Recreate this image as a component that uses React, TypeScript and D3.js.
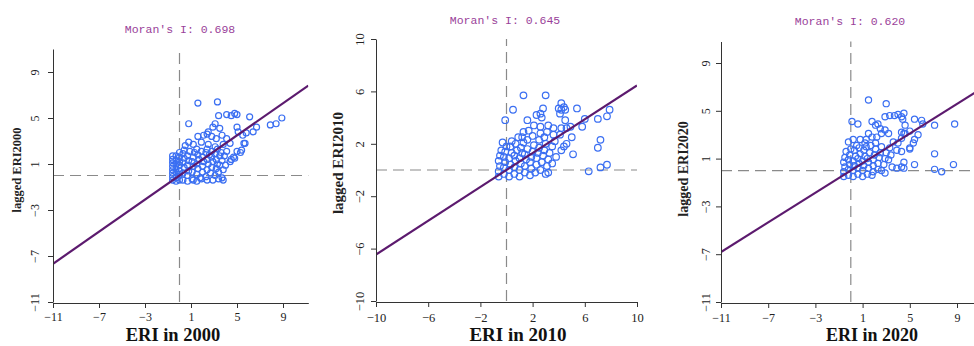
import React, { useEffect, useRef } from 'react';
import * as d3 from 'd3';

// Moran scatter plots, ERI vs lagged ERI
const years = ['2000', '2010', '2020'];
const moranI = [0.698, 0.645, 0.620];

const ticks2000 = [-11, -7, -3, 1, 5, 9];
const ticks2010 = [-10, -6, -2, 2, 6, 10];
const ticks2020 = [-11, -7, -3, 1, 5, 9];

const pts2000: [number, number][] = [
  [1.6, 6.3], [3.3, 6.4], [0.8, 4.5], [3.1, 4.5], [4.1, 5.3], [3.4, 5.2], [2.9, 4.2], [3.5, 4.1], [2.5, 3.8],
  [1.6, 3.4], [2.1, 3.5], [2.4, 3.6], [2.8, 3.4], [3.2, 3.2], [3.7, 3.5], [4.1, 3.2], [0.8, 2.9], [1.2, 2.7],
  [0.5, 2.6], [1.9, 2.9], [2.5, 2.7], [3.1, 2.5], [3.8, 2.7], [4.4, 2.8],
  [4.8, 5.4], [5.0, 5.3], [4.5, 5.2], [6.1, 5.1], [7.9, 4.4], [8.4, 4.5], [8.9, 5.0], [5.0, 4.2], [6.7, 4.2],
  [6.4, 3.8], [5.1, 3.8], [5.5, 3.5], [5.8, 3.7], [5.7, 2.8], [5.4, 2.2], [5.0, 2.1], [4.7, 1.6], [4.5, 1.4],
  [2.9, -0.4], [3.4, -0.3], [3.7, -0.2], [3.8, -0.4], [2.4, -0.4], [1.8, -0.2], [1.2, -0.4], [3.8, 0.5],
  [3.4, 0.3], [4.4, 1.2], [4.8, 1.5], [5.3, 2.0], [5.6, 2.8],
  [-0.6, -0.4], [-0.6, -0.1], [-0.6, 0.2], [-0.6, 0.5], [-0.6, 0.8], [-0.6, 1.1], [-0.6, 1.4], [-0.6, 1.7],
  [-0.3, -0.5], [-0.3, -0.2], [-0.3, 0.3], [-0.3, 0.6], [-0.3, 1.0], [-0.3, 1.3], [-0.3, 1.7],
  [0.0, -0.4], [0.0, 0.1], [0.0, 0.4], [0.0, 0.9], [0.0, 1.2], [0.0, 1.6], [0.0, 2.0],
  [0.3, -0.4], [0.3, 0.2], [0.4, 0.7], [0.3, 1.1], [0.4, 1.5], [0.3, 1.9], [0.4, 2.2],
  [0.7, -0.5], [0.7, 0.0], [0.8, 0.4], [0.7, 0.9], [0.8, 1.3], [0.7, 1.7], [0.9, 2.1],
  [1.1, -0.3], [1.1, 0.3], [1.2, 0.8], [1.1, 1.2], [1.2, 1.6], [1.3, 2.0], [1.5, 2.3],
  [1.5, -0.5], [1.5, 0.1], [1.6, 0.6], [1.5, 1.0], [1.7, 1.4], [1.6, 1.8], [1.9, 2.1],
  [1.9, -0.3], [2.0, 0.3], [2.0, 0.8], [2.1, 1.2], [2.0, 1.6], [2.3, 2.0], [2.4, 2.3],
  [2.3, -0.1], [2.4, 0.5], [2.5, 1.0], [2.4, 1.4], [2.6, 1.8], [2.8, 2.1],
  [2.7, 0.2], [2.8, 0.7], [2.9, 1.2], [2.8, 1.6], [3.1, 1.9], [3.3, 2.3],
  [3.1, 0.0], [3.2, 0.6], [3.3, 1.0], [3.2, 1.4], [3.5, 1.7], [3.6, 2.0],
  [3.5, 0.9], [3.7, 1.3], [3.9, 1.7], [4.1, 2.1], [4.0, 0.9],
];

const pts2010: [number, number][] = [
  [1.3, 5.7], [3.0, 5.7], [0.5, 4.6], [-0.1, 3.8], [1.6, 3.8], [2.8, 4.7], [2.6, 4.3], [2.3, 4.2], [2.7, 4.0],
  [4.0, 4.7], [4.2, 4.6], [4.4, 4.8], [4.1, 4.3], [4.2, 5.1], [4.5, 4.6], [5.4, 4.7], [7.9, 4.6], [7.7, 4.1],
  [7.0, 3.9], [6.0, 3.9], [5.8, 3.3], [4.9, 3.3], [4.6, 3.2], [4.5, 3.8],
  [2.1, 3.4], [2.6, 3.3], [3.2, 3.4], [3.6, 3.2], [4.2, 3.2], [1.3, 2.9], [1.7, 3.0], [2.6, 2.8], [3.1, 2.9],
  [3.6, 2.7], [4.1, 2.7],
  [5.0, 2.5], [4.6, 2.0], [4.4, 1.8], [4.2, 1.5], [7.2, 2.3], [7.0, 1.7], [5.1, 1.2], [7.7, 0.4], [7.2, 0.2],
  [6.3, -0.1], [3.2, -0.2],
  [-0.6, -0.5], [-0.6, -0.1], [-0.5, 0.3], [-0.6, 0.7], [-0.5, 1.1], [-0.4, 1.5], [-0.3, 2.1],
  [-0.2, -0.3], [-0.2, 0.2], [-0.1, 0.6], [-0.2, 1.0], [-0.1, 1.4], [0.0, 1.8],
  [0.2, -0.5], [0.2, 0.0], [0.3, 0.4], [0.2, 0.9], [0.4, 1.3], [0.3, 1.8], [0.4, 2.2],
  [0.6, -0.3], [0.6, 0.2], [0.7, 0.7], [0.6, 1.1], [0.8, 1.5], [0.7, 2.0], [0.9, 2.5],
  [1.0, -0.5], [1.0, 0.0], [1.1, 0.5], [1.0, 0.9], [1.2, 1.3], [1.1, 1.7], [1.3, 2.1],
  [1.4, -0.2], [1.4, 0.3], [1.5, 0.8], [1.4, 1.2], [1.6, 1.6], [1.6, 2.3],
  [1.8, -0.4], [1.9, 0.1], [1.8, 0.6], [1.9, 1.0], [2.0, 1.4], [2.1, 1.9],
  [2.2, -0.2], [2.3, 0.4], [2.3, 0.9], [2.4, 1.3], [2.5, 1.7], [2.5, 2.3],
  [2.6, 0.0], [2.7, 0.6], [2.8, 1.1], [2.9, 1.5], [3.0, 2.0],
  [3.0, -0.3], [3.1, 0.3], [3.2, 0.8], [3.3, 1.3], [3.5, 1.8], [3.7, 2.2],
  [3.5, 0.5], [3.8, 1.0], [2.9, 2.5], [2.0, 2.6], [1.2, 2.5],
];

const pts2020: [number, number][] = [
  [1.5, 5.9], [3.0, 5.6], [0.1, 4.1], [0.6, 3.9], [1.8, 4.1], [2.3, 3.9], [2.9, 4.5], [3.3, 4.6], [3.7, 4.6],
  [4.0, 4.7], [4.5, 4.8], [4.3, 4.5], [4.4, 4.3], [5.4, 4.3], [6.0, 4.2], [6.1, 3.9], [7.1, 3.8], [8.8, 3.9],
  [4.6, 3.8], [4.6, 3.1], [4.3, 3.2], [5.0, 3.3], [5.7, 3.0], [5.4, 2.6], [5.3, 2.3],
  [2.1, 3.8], [2.5, 3.5], [2.9, 3.4], [2.6, 3.1], [3.2, 3.1], [1.5, 3.1], [1.8, 2.8], [2.2, 2.8], [1.3, 2.6],
  [-0.2, 2.4], [0.2, 2.6], [0.8, 2.6], [1.2, 2.3], [3.6, 2.4], [4.0, 2.3], [3.9, 1.7], [4.5, 3.1], [4.3, 2.7],
  [5.0, 1.9], [5.0, 1.8], [4.3, 1.6], [7.1, 1.4], [5.4, 0.5], [4.5, 0.7], [4.5, 0.2], [8.7, 0.5], [7.1, 0.1],
  [7.7, -0.1], [3.5, 0.3], [3.9, 0.2], [4.3, 0.3], [2.6, 0.0], [1.9, -0.1], [2.9, -0.2],
  [-0.6, -0.5], [-0.6, -0.1], [-0.5, 0.3], [-0.6, 0.7], [-0.5, 1.1], [-0.4, 1.6],
  [-0.2, -0.4], [-0.2, 0.1], [-0.1, 0.5], [-0.2, 0.9], [-0.1, 1.3], [0.0, 1.8],
  [0.2, -0.5], [0.2, 0.0], [0.3, 0.4], [0.2, 0.8], [0.4, 1.2], [0.3, 1.7], [0.5, 2.1],
  [0.6, -0.3], [0.6, 0.2], [0.7, 0.6], [0.6, 1.0], [0.8, 1.4], [0.7, 1.9],
  [1.0, -0.5], [1.0, 0.0], [1.1, 0.4], [1.0, 0.8], [1.2, 1.2], [1.1, 1.7], [1.3, 2.0],
  [1.4, -0.3], [1.5, 0.2], [1.5, 0.7], [1.4, 1.0], [1.6, 1.5], [1.7, 2.1],
  [1.8, -0.4], [1.9, 0.4], [1.9, 0.9], [2.0, 1.3], [2.1, 1.8],
  [2.3, 0.1], [2.3, 0.6], [2.4, 1.1], [2.5, 1.5], [2.6, 2.0],
  [2.8, 0.5], [2.9, 1.0], [3.0, 1.5], [3.2, 0.9], [3.3, 1.9], [3.4, 1.3], [2.1, 2.3],
];

const App = () => {
  const ref = useRef<SVGSVGElement>(null);

  useEffect(() => {
    const svg = d3.select(ref.current);
    svg.selectAll('*').remove();

    // layout for each panel (pixels)
    const panels = [
      {
        pts: pts2000, ticks: ticks2000, xd: [-11, 11.2], xr: [53, 308.3], yd: [-11, 11], yr: [302, 49],
        title: [180, 33], ylab: [21, 170, 12.5], xlab: [173, 341, 18.5], tickFont: 12, r: 3, yOff: -14, xOff: 14,
      },
      {
        pts: pts2010, ticks: ticks2010, xd: [-10, 10], xr: [376, 637], yd: [-10, 10], yr: [301, 39],
        title: [505, 24], ylab: [343, 163, 15], xlab: [518, 341, 19], tickFont: 12.5, r: 3.3, yOff: -12, xOff: 16,
      },
      {
        pts: pts2020, ticks: ticks2020, xd: [-11, 11.5], xr: [721, 986.5], yd: [-11, 10.8], yr: [302, 41.5],
        title: [850, 25], ylab: [688, 169, 14], xlab: [872, 341, 18], tickFont: 12, r: 3.1, yOff: -11, xOff: 15,
      },
    ];

    panels.forEach((p, i) => {
      const x = d3.scaleLinear().domain(p.xd).range(p.xr);
      const y = d3.scaleLinear().domain(p.yd).range(p.yr);
      const g = svg.append('g');

      const clipId = `clip${i}`;
      g.append('clipPath').attr('id', clipId)
        .append('rect')
        .attr('x', p.xr[0]).attr('y', p.yr[1])
        .attr('width', p.xr[1] - p.xr[0]).attr('height', p.yr[0] - p.yr[1]);

      // mean lines
      g.append('line')
        .attr('x1', x(p.xd[0])).attr('x2', x(p.xd[1]))
        .attr('y1', y(0)).attr('y2', y(0))
        .attr('stroke', '#8a8a8a').attr('stroke-width', 1.2).attr('stroke-dasharray', '11,6');
      g.append('line')
        .attr('x1', x(0)).attr('x2', x(0))
        .attr('y1', y(p.yd[0])).attr('y2', y(p.yd[1]))
        .attr('stroke', '#8a8a8a').attr('stroke-width', 1.2).attr('stroke-dasharray', '11,6');

      // points
      g.append('g').selectAll('circle').data(p.pts).join('circle')
        .attr('cx', d => x(d[0])).attr('cy', d => y(d[1])).attr('r', p.r)
        .attr('fill', 'none').attr('stroke', '#3b6ff2').attr('stroke-width', 1.2);

      // regression line, slope = Moran's I
      const line = d3.line<number>().x(d => x(d)).y(d => y(d * moranI[i]));
      g.append('path').datum(p.xd)
        .attr('d', line)
        .attr('clip-path', `url(#${clipId})`)
        .attr('fill', 'none').attr('stroke', '#5c1a6e').attr('stroke-width', 2.2);

      // axes
      const ax = g.append('g').attr('transform', `translate(0,${p.yr[0] + 1})`)
        .call(d3.axisBottom(x).tickValues(p.ticks).tickSize(5).tickSizeOuter(0).tickFormat(d3.format('d')));
      ax.selectAll('text').attr('y', p.xOff).attr('dy', '0.35em');
      const ay = g.append('g').attr('transform', `translate(${p.xr[0]},0)`)
        .call(d3.axisLeft(y).tickValues(p.ticks).tickSize(5).tickSizeOuter(0).tickFormat(d3.format('d')));
      ay.selectAll('text')
        .attr('transform', 'rotate(-90)')
        .attr('x', 0).attr('y', p.yOff).attr('dy', 0)
        .attr('text-anchor', 'middle');
      [ax, ay].forEach(a => {
        a.selectAll('path,line').attr('stroke', '#333');
        a.selectAll('text')
          .attr('font-family', 'Liberation Serif').attr('font-size', p.tickFont).attr('fill', '#222');
      });

      // title
      g.append('text')
        .attr('x', p.title[0]).attr('y', p.title[1])
        .attr('text-anchor', 'middle')
        .attr('font-family', 'Liberation Mono').attr('font-size', 11.5).attr('fill', '#9a3f9a')
        .text(`Moran's I: ${moranI[i].toFixed(3)}`);

      // axis labels
      g.append('text')
        .attr('transform', `translate(${p.ylab[0]},${p.ylab[1]}) rotate(-90)`)
        .attr('text-anchor', 'middle')
        .attr('font-family', 'Liberation Serif').attr('font-weight', 'bold')
        .attr('font-size', p.ylab[2]).attr('fill', '#222')
        .text(`lagged ERI${years[i]}`);
      g.append('text')
        .attr('x', p.xlab[0]).attr('y', p.xlab[1])
        .attr('text-anchor', 'middle')
        .attr('font-family', 'Liberation Serif').attr('font-weight', 'bold')
        .attr('font-size', p.xlab[2]).attr('fill', '#111')
        .text(`ERI in ${years[i]}`);
    });
  }, []);

  return (
    <svg ref={ref} width={974} height={346}
      style={{ position: 'absolute', left: 0, top: 0, background: '#fff' }} />
  );
};

export default App;
